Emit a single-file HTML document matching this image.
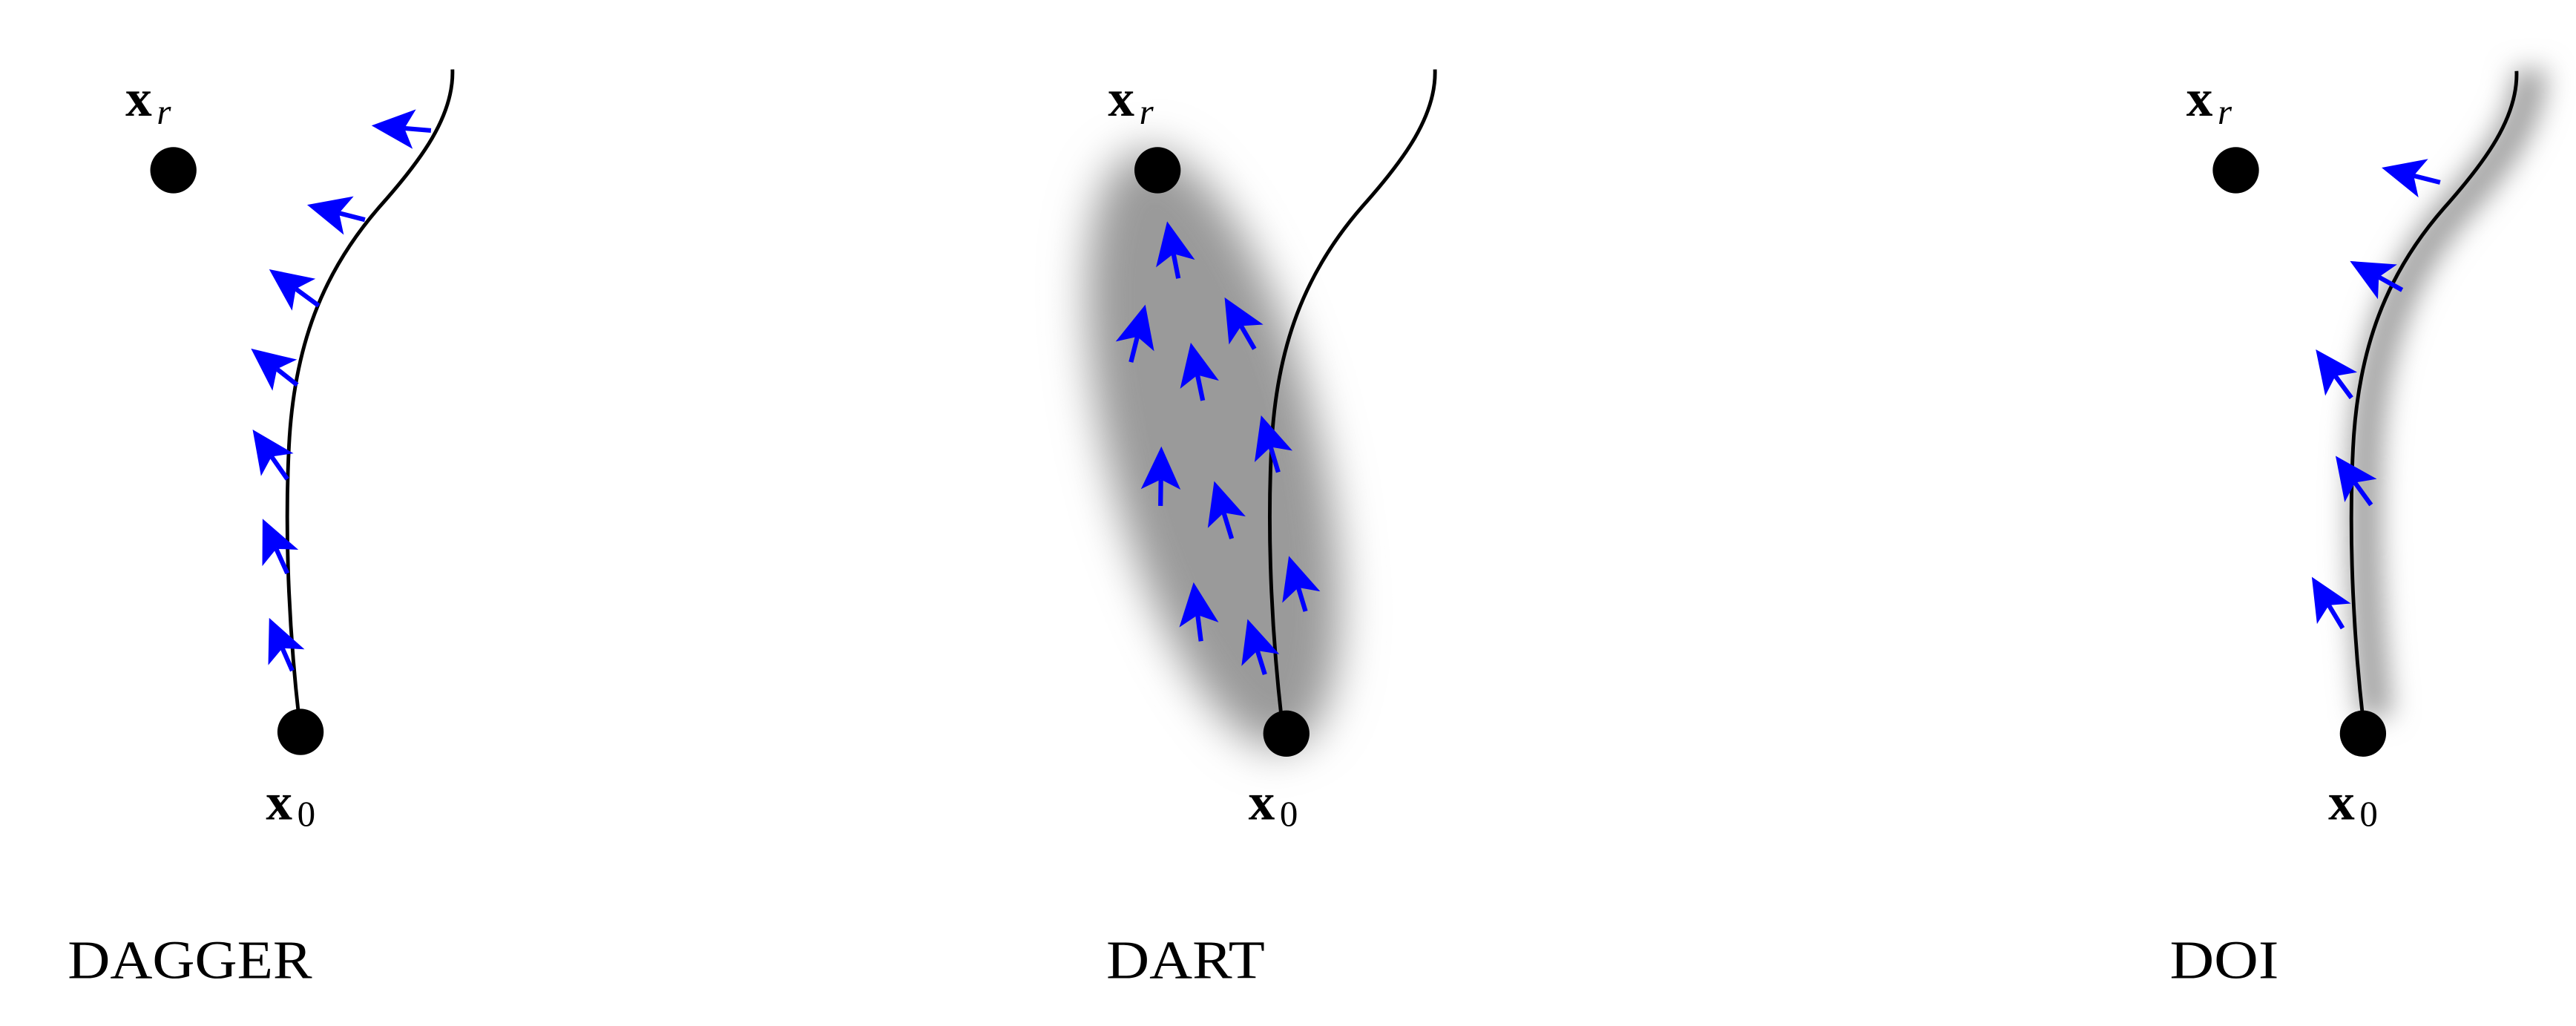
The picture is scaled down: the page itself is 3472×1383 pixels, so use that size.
<!DOCTYPE html>
<html><head><meta charset="utf-8"><style>
html,body{margin:0;padding:0;background:#fff;}
svg{display:block;}
text{font-family:"Liberation Serif",serif;fill:#000;}
</style></head><body>
<svg id="s" width="3472" height="1383" viewBox="0 0 1560 621" preserveAspectRatio="none" xmlns="http://www.w3.org/2000/svg">
<defs>
<filter id="b1" x="-50%" y="-50%" width="200%" height="200%"><feGaussianBlur stdDeviation="13"/></filter>
<filter id="b2" x="-50%" y="-50%" width="200%" height="200%"><feGaussianBlur stdDeviation="8"/></filter>
<path id="cv" d="M181,434 C176,390 172,330 175,270 C178,210 195,165 230,125 C255,97 275,70 274,42" fill="none"/>
</defs>
<rect width="1560" height="621" fill="#fff"/>

<!-- DART ellipse -->
<ellipse cx="735" cy="272" rx="64" ry="186" transform="rotate(-14 735 272)" fill="#9a9a9a" filter="url(#b1)"/>
<!-- DOI shadow -->
<g transform="translate(1254,0)">
<use href="#cv" stroke="#a0a0a0" stroke-width="20" transform="translate(4,0)" filter="url(#b2)"/>
</g>

<!-- curves -->
<use href="#cv" stroke="#000" stroke-width="2.2"/>
<use href="#cv" stroke="#000" stroke-width="2.2" transform="translate(595,0)"/>
<use href="#cv" stroke="#000" stroke-width="2.2" transform="translate(1250,1)"/>

<!-- dots -->
<circle cx="105" cy="103" r="14" fill="#000"/>
<circle cx="182" cy="443" r="14" fill="#000"/>
<circle cx="701" cy="103" r="14" fill="#000"/>
<circle cx="779" cy="444" r="14" fill="#000"/>
<circle cx="1354" cy="103" r="14" fill="#000"/>
<circle cx="1431" cy="444" r="14" fill="#000"/>

<g id="arrows"></g>

<!-- labels -->
<text x="76" y="70" font-size="32" font-weight="bold">x</text><text x="95" y="75" font-size="22" font-style="italic">r</text>
<text x="161" y="496" font-size="32" font-weight="bold">x</text><text x="180" y="500" font-size="22">0</text>
<text x="671" y="70" font-size="32" font-weight="bold">x</text><text x="690" y="75" font-size="22" font-style="italic">r</text>
<text x="756" y="496" font-size="32" font-weight="bold">x</text><text x="775" y="500" font-size="22">0</text>
<text x="1324" y="70" font-size="32" font-weight="bold">x</text><text x="1343" y="75" font-size="22" font-style="italic">r</text>
<text x="1410" y="496" font-size="32" font-weight="bold">x</text><text x="1429" y="500" font-size="22">0</text>

<text x="41" y="592" font-size="33" textLength="148" lengthAdjust="spacingAndGlyphs">DAGGER</text>
<text x="670" y="592" font-size="33" textLength="96" lengthAdjust="spacingAndGlyphs">DART</text>
<text x="1314" y="592" font-size="33" textLength="66" lengthAdjust="spacingAndGlyphs">DOI</text>
</svg>
<script>
var A=[
[225,76,261,79],[186,124,221,133],[163,163,193,185],[152,211,180,233],[153,260,174,290],[159,314,174,347],[163,374,177,406],
[706.8,134,713.6,168.5],[693.6,184.4,684.9,219.2],[741.6,180,759.7,211.2],[721.1,207.4,728.4,242.4],[703.3,270.2,702.8,306.2],
[763.7,251.4,774.1,285.8],[735.3,291.2,745.9,326],[780.5,336.5,790.6,370],[722.8,352.4,727.3,388.1],[755.5,374.7,766,408.2],
[1442.3,101.5,1477.7,110.4],[1423.1,158,1454.7,175.5],[1402.4,211.5,1424,240.8],[1414.4,275.9,1435.9,305.6],[1400,349.2,1418.7,380.2]
];
var g=document.getElementById('arrows'),ns='http://www.w3.org/2000/svg';
A.forEach(function(a){
 var tx=a[0],ty=a[1],bx=a[2],by=a[3];
 var dx=tx-bx,dy=ty-by,l=Math.hypot(dx,dy);var ux=dx/l,uy=dy/l,px=-uy,py=ux;
 var L=26,W=12,N=6;
 var ln=document.createElementNS(ns,'line');
 ln.setAttribute('x1',bx);ln.setAttribute('y1',by);
 ln.setAttribute('x2',tx-ux*(L-N));ln.setAttribute('y2',ty-uy*(L-N));
 ln.setAttribute('stroke','#0000ff');ln.setAttribute('stroke-width','2.8');g.appendChild(ln);
 var p=document.createElementNS(ns,'polygon');
 var pts=[[tx,ty],[tx-ux*L+px*W,ty-uy*L+py*W],[tx-ux*(L-N),ty-uy*(L-N)],[tx-ux*L-px*W,ty-uy*L-py*W]];
 p.setAttribute('points',pts.map(function(q){return q[0].toFixed(2)+','+q[1].toFixed(2)}).join(' '));
 p.setAttribute('fill','#0000ff');g.appendChild(p);
});
</script>
</body></html>
